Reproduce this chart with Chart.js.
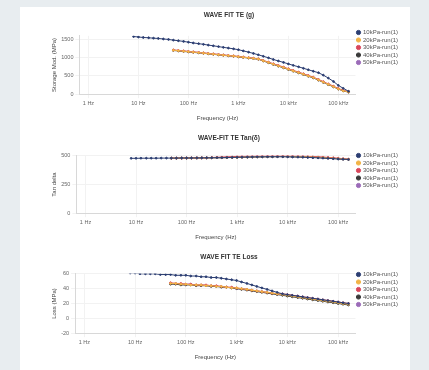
<!DOCTYPE html>
<html>
<head>
<meta charset="utf-8">
<script src="https://cdn.jsdelivr.net/npm/chart.js@4/dist/chart.umd.min.js"></script>
<style>
  body { margin: 0; background: #e8edf0; width: 429px; height: 370px; overflow: hidden; }
  #panel { position: absolute; left: 20px; top: 7px; width: 390px; height: 363px; background: #fff; }
  canvas { position: absolute; left: 0; }
</style>
</head>
<body>
<div id="panel">
  <canvas id="chart1" width="390" height="121" style="top:0px"></canvas>
  <canvas id="chart2" width="390" height="117" style="top:123px"></canvas>
  <canvas id="chart3" width="390" height="118" style="top:242px"></canvas>
</div>
<script>
// frequencies (Hz)
const freqs = [8, 10, 12.5, 16, 20, 25, 31.5, 40, 50, 63, 80, 100, 125, 160, 200, 250, 315, 400, 500, 630,
  800, 1000, 1250, 1600, 2000, 2500, 3150, 4000, 5000, 6300, 8000, 10000, 12500, 16000, 20000, 25000,
  31500, 40000, 50000, 63000, 80000, 100000, 125000, 160000];
const xTicks = [1, 10, 100, 1000, 10000, 100000];
const xTickLabels = ['1 Hz', '10 Hz', '100 Hz', '1 kHz', '10 kHz', '100 kHz'];
const seriesNames = ['10kPa-run(1)', '20kPa-run(1)', '30kPa-run(1)', '40kPa-run(1)', '50kPa-run(1)'];
const seriesColors = ['#2c3e72', '#f2b447', '#d9465b', '#3a3a3a', '#9b6bb8'];
const pad8 = [null, null, null, null, null, null, null, null];

// y tick values per chart
const y1Ticks = [0, 500, 1000, 1500];
const y2Ticks = [0, 250, 500];
const y3Ticks = [-20, 0, 20, 40, 60];

// chart 1 values
const c1s1 = [1580, 1567, 1554, 1546, 1535, 1527, 1513, 1500, 1481, 1465, 1446, 1425, 1404, 1385, 1366, 1345,
  1326, 1304, 1283, 1264, 1243, 1219, 1187, 1152, 1117, 1080, 1039, 996, 951, 911, 871, 830, 790, 750, 710,
  670, 629, 589, 522, 442, 348, 241, 161, 80];
const c1s2 = pad8.concat([1205, 1192, 1179, 1166, 1153, 1140, 1126, 1112, 1098, 1084, 1070, 1057, 1045, 1029,
  1013, 997, 981, 964, 917, 870, 823, 777, 731, 685, 639, 593, 547, 501, 455, 393, 331, 269, 207, 145, 95, 60]);
const c1s3 = pad8.concat([1212, 1199, 1186, 1172, 1159, 1145, 1131, 1117, 1103, 1089, 1075, 1061, 1048, 1033,
  1018, 1002, 986, 968, 925, 880, 834, 790, 744, 698, 652, 606, 560, 514, 468, 406, 344, 282, 220, 158, 106, 70]);
const c1s4 = pad8.concat([1198, 1185, 1172, 1159, 1146, 1133, 1120, 1106, 1092, 1078, 1064, 1051, 1039, 1023,
  1007, 991, 975, 958, 910, 862, 815, 768, 722, 676, 630, 584, 538, 492, 446, 385, 323, 262, 200, 140, 90, 56]);
const c1s5 = pad8.concat([1208, 1195, 1182, 1169, 1156, 1143, 1129, 1115, 1101, 1087, 1073, 1060, 1047, 1031,
  1015, 999, 983, 966, 919, 872, 825, 779, 733, 687, 641, 596, 550, 504, 458, 396, 334, 272, 210, 148, 98, 62]);

// chart 2 values
const c2s1 = [478, 478, 479, 479, 479, 479, 480, 480, 480, 480, 481, 481, 481, 482, 482, 483, 483, 484, 484, 485,
  486, 487, 488, 489, 490, 491, 491, 492, 492, 492, 492, 491, 490, 489, 488, 486, 484, 482, 480, 478, 475, 472,
  470, 468];
const c2s2 = pad8.concat([480, 480, 481, 481, 481, 482, 482, 483, 483, 484, 484, 485, 486, 487, 488, 489, 490, 491,
  492, 493, 493, 494, 494, 494, 493, 492, 491, 490, 488, 486, 484, 481, 478, 475, 472, 469]);
const c2s3 = pad8.concat([479, 480, 480, 481, 481, 482, 482, 483, 485, 487, 489, 491, 493, 495, 496, 497, 498, 499,
  500, 500, 500, 501, 501, 500, 500, 499, 498, 496, 494, 492, 489, 486, 483, 479, 475, 471]);
const c2s4 = pad8.concat([478, 478, 479, 479, 480, 480, 481, 481, 482, 483, 483, 484, 485, 486, 487, 488, 489, 490,
  491, 492, 492, 493, 493, 493, 492, 491, 490, 489, 487, 485, 483, 480, 477, 474, 471, 468]);
const c2s5 = pad8.concat([480, 480, 481, 481, 482, 482, 483, 483, 484, 484, 485, 486, 487, 488, 489, 490, 491, 492,
  493, 494, 494, 495, 495, 494, 494, 493, 492, 490, 488, 486, 484, 481, 478, 475, 472, 469]);

// chart 3 values
const c3s1 = [61, 61, 60, 60, 60, 60, 59, 59, 59, 58, 58, 58, 57, 57, 56, 56, 55, 55, 54, 53, 52, 51, 49, 47,
  45, 43, 41, 39, 37, 35, 33, 32, 31, 30, 29, 28, 27, 26, 25, 24, 23, 22, 21, 20];
const c3s2 = pad8.concat([47, 47, 46, 46, 45, 45, 45, 44, 44, 43, 43, 42, 41, 41, 40, 39, 38, 37, 36, 35, 34, 33,
  32, 31, 30, 29, 28, 27, 26, 25, 24, 23, 22, 21, 20, 19]);
const c3s3 = pad8.concat([48, 47, 47, 46, 46, 45, 45, 45, 44, 44, 43, 42, 42, 41, 40, 39, 38, 37, 36, 35, 34, 33,
  33, 32, 31, 30, 29, 28, 27, 26, 25, 24, 23, 22, 21, 20]);
const c3s4 = pad8.concat([46, 46, 45, 45, 45, 44, 44, 44, 43, 43, 42, 42, 41, 40, 39, 38, 37, 36, 35, 34, 33, 32,
  31, 30, 29, 28, 27, 26, 25, 24, 23, 22, 21, 20, 19, 18]);
const c3s5 = pad8.concat([47, 47, 46, 46, 46, 45, 45, 44, 44, 43, 43, 42, 41, 40, 40, 39, 38, 37, 36, 35, 34, 33,
  32, 31, 30, 29, 28, 27, 26, 25, 24, 23, 22, 21, 20, 19]);

const tickFont = { family: 'Liberation Sans', size: 5.5 };
const legendFont = { family: 'Liberation Sans', size: 6 };
const axisTitleFont = { family: 'Liberation Sans', size: 6 };

function makeChart(id, title, yTitle, series, yMin, yMax, yTicks, titleGap) {
    const datasets = series.map((vals, i) => ({
        label: seriesNames[i],
        data: freqs.map((f, k) => ({ x: f, y: vals[k] })),
        borderColor: seriesColors[i],
        backgroundColor: seriesColors[i],
        borderWidth: 1,
        pointRadius: 0.9,
        pointStyle: 'circle'
    }));
    return new Chart(document.getElementById(id).getContext('2d'), {
        type: 'line',
        data: { datasets: datasets },
        options: {
            responsive: false,
            animation: false,
            layout: { padding: { left: 30, right: 2, top: 2, bottom: 2 } },
            plugins: {
                title: { display: true, text: title, color: '#333', font: { family: 'Liberation Sans', size: 6.5, weight: 'bold' }, padding: { top: 2, bottom: titleGap } },
                legend: {
                    position: 'right',
                    align: 'start',
                    title: { display: true, text: ' ', font: { size: 5 }, padding: { top: 13, bottom: 0 } },
                    labels: { boxWidth: 3, boxHeight: 3, usePointStyle: true, pointStyle: 'circle', font: legendFont, color: '#555', padding: 1.5 }
                },
                tooltip: { enabled: false }
            },
            scales: {
                x: {
                    type: 'logarithmic',
                    min: 0.66,
                    max: 220000,
                    afterBuildTicks: axis => { axis.ticks = xTicks.map(v => ({ value: v })); },
                    ticks: { font: tickFont, color: '#666', maxRotation: 0, autoSkip: false, padding: 2,
                        callback: (v) => xTickLabels[xTicks.indexOf(v)] },
                    grid: { color: '#f2f2f2', tickLength: 4 },
                    border: { color: '#d8d8d8' },
                    title: { display: true, text: 'Frequency (Hz)', font: axisTitleFont, color: '#444', padding: { top: 6 } }
                },
                y: {
                    min: yMin,
                    max: yMax,
                    afterBuildTicks: axis => { axis.ticks = yTicks.map(v => ({ value: v })); },
                    ticks: { font: tickFont, color: '#666', padding: 2, callback: (v) => String(v) },
                    grid: { color: '#f2f2f2', tickLength: 4 },
                    border: { color: '#d8d8d8' },
                    title: { display: true, text: yTitle, font: axisTitleFont, color: '#444', padding: 1 }
                }
            }
        }
    });
}

makeChart('chart1', 'WAVE FIT TE (g)', 'Storage Mod. (MPa)', [c1s1, c1s2, c1s3, c1s4, c1s5], 0, 1600, y1Ticks, 17);
makeChart('chart2', 'WAVE-FIT TE Tan(δ)', 'Tan delta', [c2s1, c2s2, c2s3, c2s4, c2s5], 0, 500, y2Ticks, 14);
makeChart('chart3', 'WAVE FIT TE Loss', 'Loss (MPa)', [c3s1, c3s2, c3s3, c3s4, c3s5], -20, 60, y3Ticks, 13);
</script>
</body>
</html>
